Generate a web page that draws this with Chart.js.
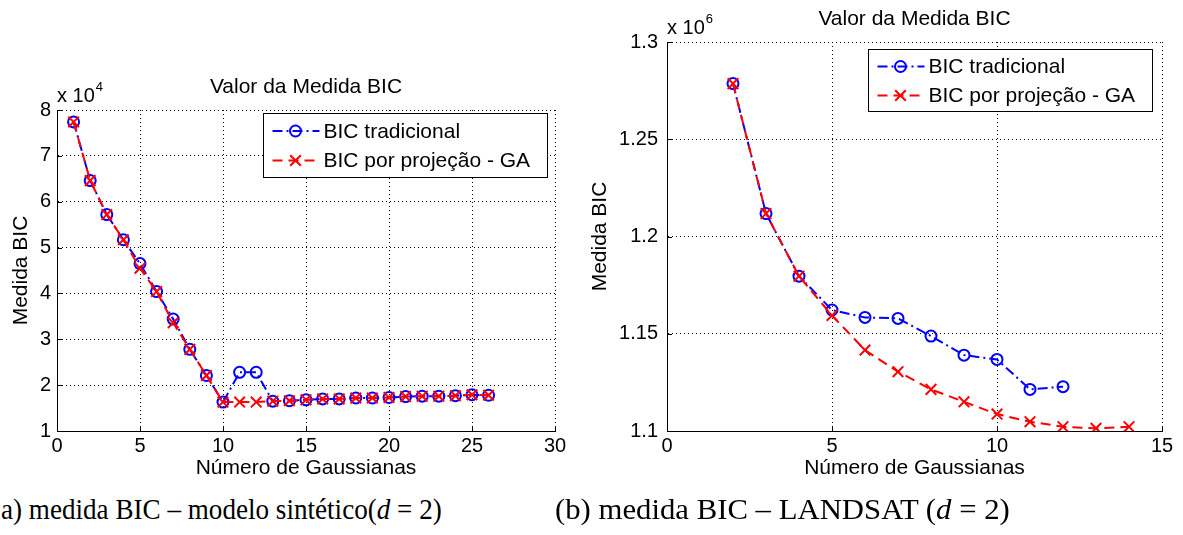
<!DOCTYPE html>
<html>
<head>
<meta charset="utf-8">
<title>Valor da Medida BIC</title>
<script src="https://cdn.jsdelivr.net/npm/chart.js@4/dist/chart.umd.min.js"></script>
<style>
  html, body { margin: 0; padding: 0; background: #fff; }
  #wrap { position: relative; width: 1183px; height: 535px; overflow: hidden; background: #fff; }
  canvas { position: absolute; top: 0; }
  #chartSynth { left: 0; }
  #chartLandsat { left: 560px; }
  .cap {
    position: absolute; top: 492px; white-space: nowrap; color: #000;
    font-family: "Liberation Serif", "Times New Roman", serif; font-size: 29px; line-height: 34px;
    transform-origin: left center;
  }
  .cap i { font-style: italic; }
  #capSynth { left: 1px; transform: scaleX(0.935); }
  #capLandsat { left: 555px; transform: scaleX(1.06); }
</style>
</head>
<body>
<div id="wrap">
  <canvas id="chartSynth" width="590" height="490"></canvas>
  <canvas id="chartLandsat" width="623" height="490"></canvas>
  <div class="cap" id="capSynth">a) medida BIC – modelo sintético(<i>d</i> = 2)</div>
  <div class="cap" id="capLandsat">(b) medida BIC – LANDSAT (<i>d</i> = 2)</div>
</div>
<script>
// ---- shared text ----
const chartTitle = 'Valor da Medida BIC';
const xAxisTitle = 'Número de Gaussianas';
const yAxisTitle = 'Medida BIC';
const seriesLabels = ['BIC tradicional', 'BIC por projeção - GA'];

// ---- synthetic model (values in units of 10^4) ----
const synthExponent = 4;
const synthGaussians = [1, 2, 3, 4, 5, 6, 7, 8, 9, 10, 11, 12, 13, 14, 15, 16, 17, 18, 19, 20, 21, 22, 23, 24, 25, 26];
const synthBicTraditional = [7.74, 6.46, 5.72, 5.17, 4.65, 4.04, 3.44, 2.78, 2.21, 1.63, 2.28, 2.28, 1.65, 1.66, 1.68, 1.70, 1.70, 1.72, 1.72, 1.73, 1.75, 1.76, 1.76, 1.77, 1.79, 1.78];
const synthBicProjection  = [7.74, 6.46, 5.72, 5.17, 4.55, 4.04, 3.36, 2.78, 2.21, 1.63, 1.63, 1.63, 1.65, 1.66, 1.68, 1.70, 1.70, 1.72, 1.72, 1.73, 1.75, 1.76, 1.76, 1.77, 1.79, 1.78];
const synthXTicks = [0, 5, 10, 15, 20, 25, 30];
const synthYTicks = [1, 2, 3, 4, 5, 6, 7, 8];

// ---- LANDSAT (values in units of 10^6) ----
const landsatExponent = 6;
const landsatGaussiansTraditional = [2, 3, 4, 5, 6, 7, 8, 9, 10, 11, 12];
const landsatBicTraditional = [1.2786, 1.2118, 1.1796, 1.1622, 1.1584, 1.1579, 1.1488, 1.1390, 1.1368, 1.1214, 1.1228];
const landsatGaussiansProjection = [2, 3, 4, 5, 6, 7, 8, 9, 10, 11, 12, 13, 14];
const landsatBicProjection = [1.2786, 1.2118, 1.1796, 1.1594, 1.1416, 1.1305, 1.1214, 1.1150, 1.1087, 1.1048, 1.1022, 1.1014, 1.1022];
const landsatXTicks = [0, 5, 10, 15];
const landsatYTicks = [1.1, 1.15, 1.2, 1.25, 1.3];

// ---- styling ----
const FAMILY = '"Liberation Sans", Arial, Helvetica, sans-serif';
const BLUE = '#0000ff';
const RED = '#ff0000';
Chart.defaults.font.family = FAMILY;
Chart.defaults.color = '#000';

const toPoints = (xs, ys) => xs.map((x, i) => ({ x, y: ys[i] }));

function seriesTraditional(xs, ys) {
  return {
    label: seriesLabels[0], data: toPoints(xs, ys), order: 2,
    borderColor: BLUE, borderWidth: 2, borderDash: [10, 4, 2, 4],
    pointStyle: 'circle', pointRadius: 5.5, pointBorderWidth: 2,
    pointBorderColor: BLUE, pointBackgroundColor: 'rgba(0,0,0,0)',
    tension: 0, fill: false
  };
}
function seriesProjection(xs, ys) {
  return {
    label: seriesLabels[1], data: toPoints(xs, ys), order: 1,
    borderColor: RED, borderWidth: 2, borderDash: [10, 6],
    pointStyle: 'crossRot', pointRadius: 7.5, pointBorderWidth: 2,
    pointBorderColor: RED, pointBackgroundColor: 'rgba(0,0,0,0)',
    tension: 0, fill: false
  };
}

// Title, exponent label, inward tick marks and boxed legend
const figureDecor = {
  id: 'figureDecor',
  afterDraw(chart, args, opts) {
    const { ctx, chartArea: a, scales } = chart;
    ctx.save();
    ctx.setLineDash([]);
    ctx.strokeStyle = '#000';
    ctx.lineWidth = 1;
    scales.x.ticks.forEach(t => {
      const px = Math.round(scales.x.getPixelForValue(t.value)) + 0.5;
      ctx.beginPath(); ctx.moveTo(px, a.bottom); ctx.lineTo(px, a.bottom - 5); ctx.stroke();
    });
    scales.y.ticks.forEach(t => {
      const py = Math.round(scales.y.getPixelForValue(t.value)) + 0.5;
      ctx.beginPath(); ctx.moveTo(a.left, py); ctx.lineTo(a.left + 5, py); ctx.stroke();
    });

    ctx.fillStyle = '#000';
    ctx.font = '21px ' + FAMILY;
    ctx.textAlign = 'center';
    ctx.textBaseline = 'middle';
    ctx.fillText(chartTitle, (a.left + a.right) / 2, opts.titleY);

    ctx.textAlign = 'left';
    ctx.textBaseline = 'alphabetic';
    ctx.font = '20px ' + FAMILY;
    const base = 'x 10';
    ctx.fillText(base, a.left, a.top - 8.5);
    const w = ctx.measureText(base).width;
    ctx.font = '13px ' + FAMILY;
    ctx.fillText(String(opts.exponent), a.left + w + 1, a.top - 19);

    const L = opts.legend;
    const bx = Math.round(a.right - L.right - L.width) + 0.5;
    const by = Math.round(a.top + L.top) + 0.5;
    ctx.fillStyle = '#fff';
    ctx.fillRect(bx, by, L.width, L.height);
    ctx.strokeStyle = '#000';
    ctx.lineWidth = 1;
    ctx.strokeRect(bx, by, L.width, L.height);
    chart.data.datasets.forEach((ds, i) => {
      const y = by + L.rows[i];
      ctx.strokeStyle = ds.borderColor;
      ctx.lineWidth = ds.borderWidth;
      ctx.setLineDash(ds.borderDash);
      ctx.beginPath(); ctx.moveTo(bx + 9, y); ctx.lineTo(bx + 56, y); ctx.stroke();
      ctx.setLineDash([]);
      ctx.strokeStyle = ds.pointBorderColor;
      ctx.fillStyle = 'rgba(0,0,0,0)';
      ctx.lineWidth = ds.pointBorderWidth;
      Chart.helpers.drawPoint(ctx, { pointStyle: ds.pointStyle, radius: ds.pointRadius, borderWidth: ds.pointBorderWidth, rotation: 0 }, bx + 32, y);
      ctx.fillStyle = '#000';
      ctx.font = '21px ' + FAMILY;
      ctx.textBaseline = 'middle';
      ctx.fillText(ds.label, bx + 60, y + 1);
    });
    ctx.restore();
  }
};

function axisOptions(ticksList, fmt, tickPad, fixedSize, horizontal, titleText) {
  return {
    type: 'linear',
    min: ticksList[0],
    max: ticksList[ticksList.length - 1],
    afterBuildTicks: s => { s.ticks = ticksList.map(v => ({ value: v })); },
    ticks: { padding: tickPad, font: { size: 20, lineHeight: 1.2 }, color: '#000', maxRotation: 0, autoSkip: false, callback: fmt },
    grid: { color: '#000', lineWidth: 1, drawTicks: false },
    border: { display: true, color: '#000', width: 1, dash: [1, 3] },
    title: { display: true, text: titleText, color: '#000', font: { size: 21, lineHeight: 1 }, padding: { top: 0, bottom: 0 } },
    afterFit: s => { if (horizontal) s.height = fixedSize; else s.width = fixedSize; }
  };
}

function makeChart(id, datasets, cfg) {
  return new Chart(document.getElementById(id), {
    type: 'line',
    data: { datasets },
    options: {
      responsive: false, animation: false, devicePixelRatio: 1,
      layout: { padding: cfg.padding },
      scales: {
        x: axisOptions(cfg.xTicks, v => String(v), 3, 47.5, true, xAxisTitle),
        y: axisOptions(cfg.yTicks, cfg.yFormat, cfg.yTickPad, cfg.yWidth, false, yAxisTitle)
      },
      plugins: {
        legend: { display: false },
        tooltip: { enabled: false },
        figureDecor: cfg.decor
      }
    },
    plugins: [figureDecor]
  });
}

makeChart('chartSynth', [
  seriesTraditional(synthGaussians, synthBicTraditional),
  seriesProjection(synthGaussians, synthBicProjection)
], {
  padding: { top: 110, left: 10.5, right: 35, bottom: 11.5 },
  xTicks: synthXTicks, yTicks: synthYTicks,
  yFormat: v => String(v), yTickPad: 6, yWidth: 46.5,
  decor: { titleY: 87, exponent: synthExponent, legend: { right: 8, top: 3, width: 284, height: 64, rows: [17.5, 47] } }
});

makeChart('chartLandsat', [
  seriesTraditional(landsatGaussiansTraditional, landsatBicTraditional),
  seriesProjection(landsatGaussiansProjection, landsatBicProjection)
], {
  padding: { top: 42, left: 29.5, right: 21, bottom: 11.5 },
  xTicks: landsatXTicks, yTicks: landsatYTicks,
  yFormat: v => String(Number(v.toFixed(2))), yTickPad: 9, yWidth: 77.5,
  decor: { titleY: 19, exponent: landsatExponent, legend: { right: 10, top: 7, width: 284, height: 62, rows: [17, 46] } }
});
</script>
</body>
</html>
